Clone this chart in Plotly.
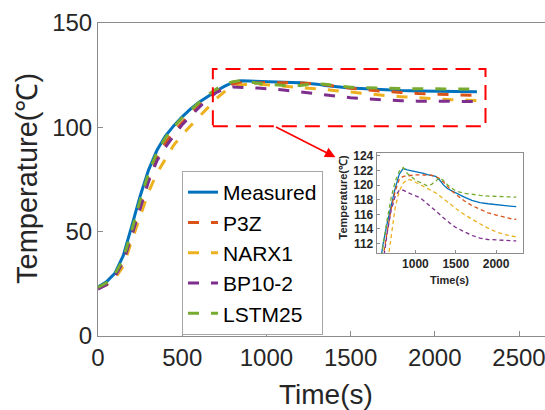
import plotly.graph_objects as go

time_s = [0, 50, 100, 150, 200, 250, 300, 350, 400, 450, 500, 550, 600, 650, 700, 750, 800, 850,
          900, 950, 1000, 1050, 1100, 1150, 1200, 1250, 1300, 1350, 1400, 1450, 1500, 1600, 1700,
          1800, 1900, 2000, 2100, 2200, 2250]

measured = [23.5, 26, 30, 38.5, 52.5, 67, 79.5, 89, 95.8, 100.8, 105, 108.8, 112, 114.8, 117.3, 119.6,
            121.5, 122.3, 122.1, 122.0, 121.8, 121.7, 121.6, 121.45, 121.35, 121.2, 120.7, 120.0,
            119.5, 119.2, 118.9, 118.4, 117.9, 117.6, 117.45, 117.3, 117.2, 117.1, 117.05]

p3z = [23, 25, 28.5, 35.5, 48, 62, 75, 85, 92.5, 98, 102.5, 106.5, 110.2, 113.6, 116.8, 119.2,
       120.8, 121.2, 121.3, 121.35, 121.4, 121.4, 121.4, 121.4, 121.35, 121.2, 120.9, 120.4,
       119.75, 119.2, 118.75, 117.9, 117.2, 116.7, 116.2, 115.9, 115.6, 115.35, 115.3]

narx1 = [23, 24.5, 27.5, 33.5, 45.5, 57.5, 69, 78, 85, 91.5, 96.5, 101, 105, 109.2, 113.6, 117,
         119.2, 120.3, 120.75, 120.7, 120.4, 120.1, 119.8, 119.55, 119.3, 118.95, 118.55, 118.1,
         117.7, 117.25, 116.8, 116.0, 115.3, 114.7, 114.1, 113.6, 113.25, 113.0, 112.9]

bp10_2 = [22.5, 24.5, 28.5, 35.5, 48, 61.5, 74, 84, 90.5, 96, 101.3, 105.5, 109.7, 113.5, 116.6,
          118.5, 119.3, 119.3, 119.0, 118.8, 118.6, 118.3, 117.9, 117.45, 117.0, 116.5, 116.0,
          115.5, 115.0, 114.6, 114.2, 113.6, 113.1, 112.75, 112.55, 112.5, 112.4, 112.35, 112.35]

lstm25 = [23.3, 25.5, 29.5, 37, 50.5, 65, 78, 88, 95, 100.3, 104.6, 108.4, 111.9, 115.3, 118.3,
          120.5, 121.9, 122.4, 121.6, 121.1, 120.7, 120.4, 120.1, 119.9, 120.1, 120.6, 121.0,
          120.6, 120.0, 119.6, 119.2, 118.9, 118.7, 118.6, 118.5, 118.45, 118.4, 118.35, 118.35]

series_names = ["Measured", "P3Z", "NARX1", "BP10-2", "LSTM25"]
series_values = [measured, p3z, narx1, bp10_2, lstm25]
colors = ["#0072BD", "#D95319", "#EDB120", "#7E2F8E", "#77AC30"]

x_ticks = [0, 500, 1000, 1500, 2000, 2500]
y_ticks = [0, 50, 100, 150]
inset_x_ticks = [1000, 1500, 2000]
inset_y_ticks = [112, 114, 116, 118, 120, 122, 124]

zoom_box = dict(x0=682, x1=2301, y0=100.5, y1=128)
arrow_tail = (1048, 100.5)
arrow_tip = (1410, 85.7)

FONT = "Liberation Sans, Arial, Helvetica, sans-serif"
TXT = "#262626"
AX = "#8c8c8c"

fig = go.Figure()
for name, vals, col in zip(series_names, series_values, colors):
    dash = "solid" if name == "Measured" else "11px,12px"
    fig.add_trace(go.Scatter(x=time_s, y=vals, mode="lines", name=name,
                             line=dict(color=col, width=3, dash=dash),
                             xaxis="x", yaxis="y"))
for name, vals, col in zip(series_names, series_values, colors):
    dash = "solid" if name == "Measured" else "4px,3px"
    fig.add_trace(go.Scatter(x=time_s, y=vals, mode="lines", name=name, showlegend=False,
                             line=dict(color=col, width=1.3, dash=dash),
                             xaxis="x2", yaxis="y2", cliponaxis=True))

W, H = 545, 410
ml, mr, mt, mb = 98, 0, 23, 74
pw = W - ml - mr
ph = H - mt - mb

def px_x(px):
    return (px - ml) / pw

def px_y(py):
    return (H - mb - py) / ph

fig.update_layout(
    width=W, height=H,
    margin=dict(l=ml, r=mr, t=mt, b=mb, pad=0),
    paper_bgcolor="white", plot_bgcolor="white",
    font=dict(family=FONT, color=TXT),
    showlegend=True,
    legend=dict(x=px_x(182), y=px_y(171), xanchor="left", yanchor="top",
                bgcolor="white", bordercolor="#a6a6a6", borderwidth=1,
                font=dict(size=21, family=FONT, color="#000000"),
                itemwidth=30, tracegroupgap=0),
    xaxis=dict(domain=[0, 1], range=[0, pw / 0.1684], tickvals=x_ticks,
               showline=True, linecolor=AX, linewidth=1, mirror=True,
               ticks="inside", ticklen=5, tickcolor=AX, showgrid=False, zeroline=False,
               ticklabeloverflow="allow",
               tickfont=dict(size=24, family=FONT, color=TXT)),
    yaxis=dict(domain=[0, 1], range=[0, 150], tickvals=y_ticks,
               showline=True, linecolor=AX, linewidth=1, mirror=False,
               ticks="inside", ticklen=5, tickcolor=AX, showgrid=False, zeroline=False,
               tickfont=dict(size=24, family=FONT, color=TXT)),
    xaxis2=dict(domain=[px_x(376.7), px_x(522.7)], range=[520, 2330], anchor="y2",
                tickvals=inset_x_ticks, showline=True, linecolor=AX, linewidth=1, mirror=True,
                ticks="inside", ticklen=3, tickcolor=AX, showgrid=False, zeroline=False,
                tickfont=dict(size=12, family=FONT, color=TXT, weight="bold")),
    yaxis2=dict(domain=[px_y(253), px_y(153)], range=[110.7, 124.4], anchor="x2",
                tickvals=inset_y_ticks, showline=True, linecolor=AX, linewidth=1, mirror=True,
                ticks="inside", ticklen=3, tickcolor=AX, showgrid=False, zeroline=False,
                tickfont=dict(size=12, family=FONT, color=TXT, weight="bold")),
)

fig.add_shape(type="rect", xref="x", yref="y", **zoom_box,
              line=dict(color="#FF0000", width=2, dash="15px,8px"))

fig.add_annotation(x=arrow_tip[0], y=arrow_tip[1], ax=arrow_tail[0], ay=arrow_tail[1],
                   xref="x", yref="y", axref="x", ayref="y", text="", showarrow=True,
                   arrowhead=2, arrowsize=1.3, arrowwidth=1.6, arrowcolor="#FF0000", standoff=0)

# axis titles
fig.add_annotation(text="Time(s)", xref="paper", yref="paper", x=px_x(326), y=px_y(395),
                   xanchor="center", yanchor="middle", showarrow=False,
                   font=dict(size=28, family=FONT, color=TXT))
fig.add_annotation(text="Temperature(℃)", xref="paper", yref="paper", x=px_x(27), y=px_y(179),
                   xanchor="center", yanchor="middle", showarrow=False, textangle=-90,
                   font=dict(size=29, family=FONT, color=TXT))
fig.add_annotation(text="Time(s)", xref="paper", yref="paper", x=px_x(449), y=px_y(280),
                   xanchor="center", yanchor="middle", showarrow=False,
                   font=dict(size=11, family=FONT, color=TXT, weight="bold"))
fig.add_annotation(text="Temperature(℃)", xref="paper", yref="paper", x=px_x(342.5), y=px_y(198),
                   xanchor="center", yanchor="middle", showarrow=False, textangle=-90,
                   font=dict(size=11, family=FONT, color=TXT, weight="bold"))

fig.write_html("out.html")
